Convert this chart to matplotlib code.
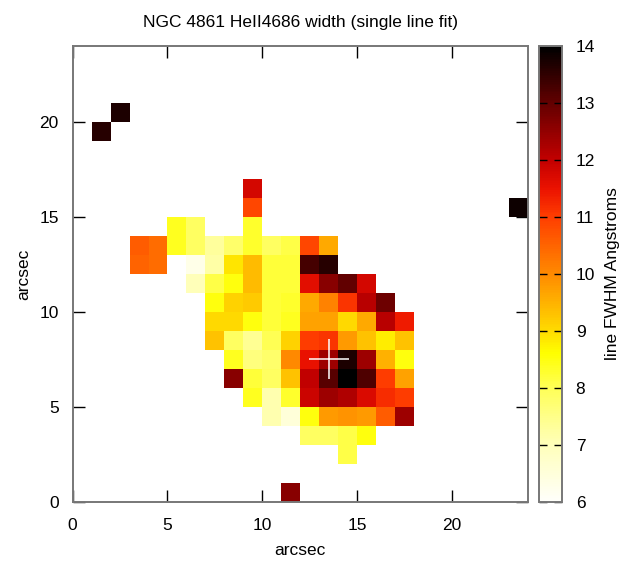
import numpy as np
import matplotlib
matplotlib.use("Agg")
import matplotlib.pyplot as plt
from matplotlib.colors import LinearSegmentedColormap

plt.rcParams["font.family"] = ["Liberation Sans", "DejaVu Sans"]

# Map grid: 24 x 24 one-arcsec spaxels, FWHM in Angstroms (NaN = no fit)
n_side = 24

# Each row: (row index, first column, values left to right; nan = gap)
row_00 = (0, 11, [12.6])
row_02 = (2, 14, [8.1])
row_03 = (3, 12, [7.9, 7.9, 8.1, 8.5])
row_04 = (4, 10, [7.1, 6.5, 8.5, 9.8, 9.9, 9.8, 10.6, 12.4])
row_05 = (5, 9, [8.4, 7.1, 8.3, 11.9, 12.4, 12.2, 11.7, 11.2, 11.0])
row_06 = (6, 8, [12.6, 8.2, 7.9, 9.3, 12.0, 13.1, 14.0, 13.2, 11.0, 9.7])
row_07 = (7, 8, [8.4, 7.6, 7.8, 10.0, 11.5, 12.4, 13.7, 12.4, 9.5, 8.5])
row_08 = (8, 7, [9.3, 7.9, 7.4, 8.0, 9.1, 11.0, 11.1, 9.8, 9.3, 8.8, 9.3])
row_09 = (9, 7, [9.0, 9.0, 8.5, 8.2, 8.4, 9.7, 9.7, 9.0, 9.6, 12.1, 11.4])
row_10 = (10, 7, [8.5, 9.1, 9.2, 8.2, 8.3, 9.6, 10.1, 11.1, 12.1, 12.9])
row_11 = (11, 6, [7.0, 8.1, 8.5, 9.4, 8.2, 8.2, 11.6, 12.6, 13.0, 11.8])
row_12 = (12, 3, [10.5, 10.4, np.nan, 6.3, 7.2, 8.9, 9.4, 8.2, 8.2, 13.3, 13.6])
row_13 = (13, 3, [10.6, 10.4, 8.4, 7.9, 7.3, 7.8, 8.3, 7.9, 8.1, 10.9, 9.6])
row_14 = (14, 5, [8.4, 7.9, np.nan, np.nan, 8.3])
row_15a = (15, 9, [10.9])
row_15b = (15, 23, [13.85])
row_16 = (16, 9, [11.8])
row_19 = (19, 1, [13.6])
row_20 = (20, 2, [13.7])

rows = [row_00, row_02, row_03, row_04, row_05, row_06, row_07, row_08,
        row_09, row_10, row_11, row_12, row_13, row_14, row_15a, row_15b,
        row_16, row_19, row_20]

# Continuum centre marker
center_x = 13.5
center_y = 7.5

# Colour scale range and ticks
vmin, vmax = 6, 14
cb_ticks = [6, 7, 8, 9, 10, 11, 12, 13, 14]
axis_ticks = [0, 5, 10, 15, 20]

grid = np.full((n_side, n_side), np.nan)
for r, c0, vals in rows:
    grid[r, c0:c0 + len(vals)] = vals

# white -> yellow -> orange -> red -> black palette
stops = [
    (6.0, (255, 255, 250)),
    (7.0, (255, 255, 185)),
    (8.0, (255, 255, 85)),
    (8.6, (255, 255, 0)),
    (9.0, (255, 218, 0)),
    (10.0, (255, 138, 0)),
    (11.0, (255, 62, 0)),
    (11.5, (235, 18, 0)),
    (12.0, (195, 0, 0)),
    (13.0, (100, 0, 0)),
    (14.0, (0, 0, 0)),
]
cmap = LinearSegmentedColormap.from_list(
    "fwhm",
    [((v - vmin) / (vmax - vmin), tuple(ch / 255 for ch in col)) for v, col in stops],
)
cmap.set_bad((1, 1, 1, 0))

fs = 12.5

fig = plt.figure(figsize=(6.32, 5.63), dpi=100)
ax = fig.add_axes([0.115, 0.109, 0.72, 0.809])
cax = fig.add_axes([0.853, 0.109, 0.036, 0.809])

edges = np.arange(n_side + 1)
mesh = ax.pcolormesh(edges, edges, np.ma.masked_invalid(grid), cmap=cmap,
                     vmin=vmin, vmax=vmax, shading="flat")
ax.plot([center_x], [center_y], marker="+", ms=29, mew=1.1, color="white",
        linestyle="none")
ax.set_axisbelow(True)

ax.set_xlim(0, n_side)
ax.set_ylim(0, n_side)
ax.set_xticks(axis_ticks)
ax.set_yticks(axis_ticks)
ax.tick_params(direction="in", length=8.5, width=1.0, color="black",
               top=True, right=True, labelsize=fs)
ax.tick_params(axis="x", pad=12)
ax.tick_params(axis="y", pad=10)
for s in ax.spines.values():
    s.set_color("#777777")
    s.set_linewidth(1.4)

ax.set_xlabel("arcsec", fontsize=fs, labelpad=7)
ax.set_ylabel("arcsec", fontsize=fs, labelpad=6)
ax.set_title("NGC 4861 HeII4686 width (single line fit)", fontsize=fs, pad=14)

cb = fig.colorbar(mesh, cax=cax, ticks=cb_ticks)
cb.outline.set_edgecolor("#777777")
cb.outline.set_linewidth(1.4)
cax.tick_params(direction="in", length=6, width=1.0, color="black",
                left=True, right=True, labelsize=fs, pad=10)
cb.set_label("line FWHM Angstroms", fontsize=fs, labelpad=7)

fig.savefig("out.png", dpi=100)
